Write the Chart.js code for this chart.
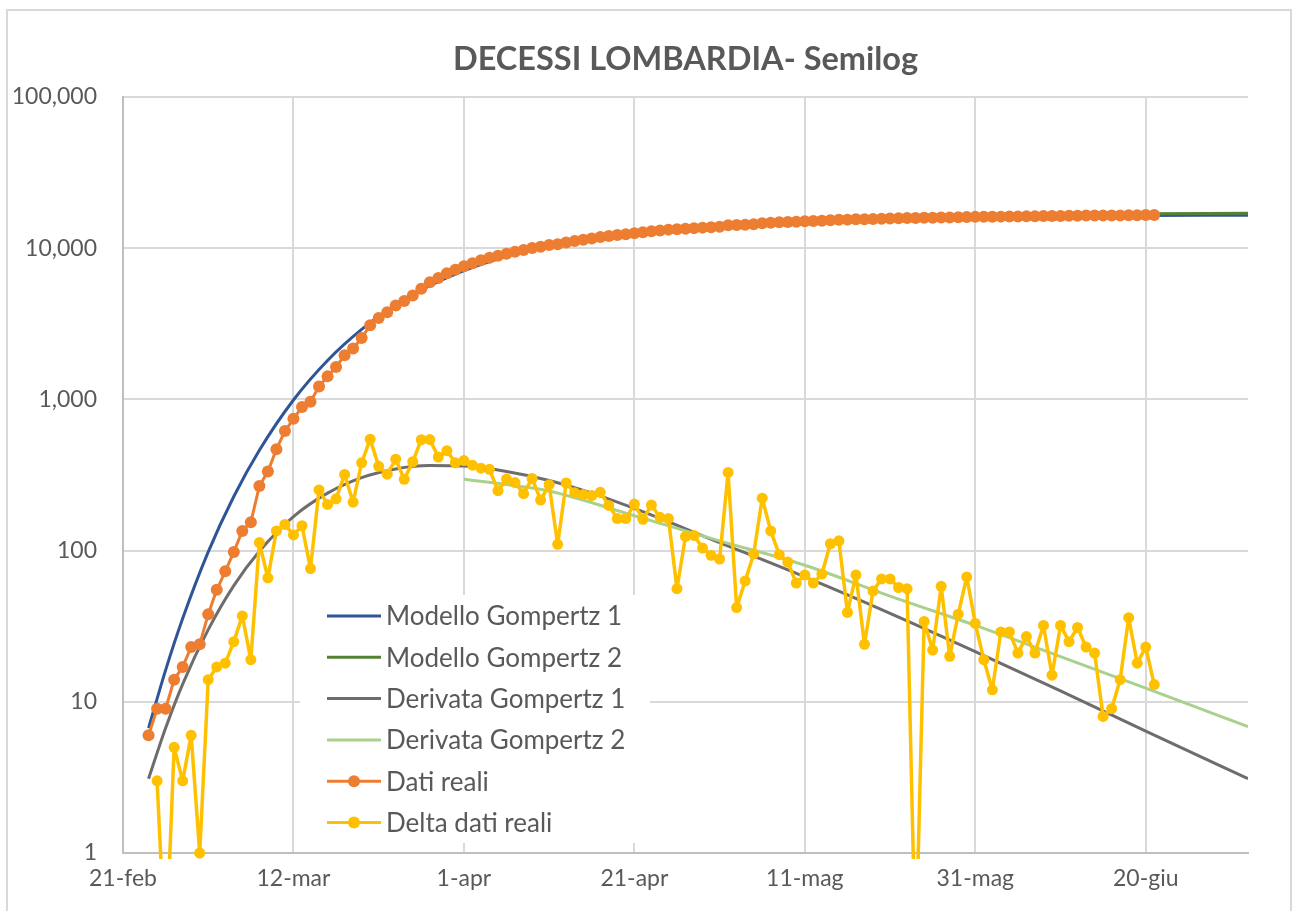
<!doctype html>
<html lang="it">
<head>
<meta charset="utf-8">
<title>DECESSI LOMBARDIA- Semilog</title>
<script src="https://cdn.jsdelivr.net/npm/chart.js@4.4.1/dist/chart.umd.min.js"></script>
<style>
  html, body { margin: 0; padding: 0; background: #fff; }
  #wrap { width: 1292px; height: 911px; }
</style>
</head>
<body>
<div id="wrap"><canvas id="chart" width="1292" height="911"></canvas></div>

<script>
    // x axis = days since 21-feb, one label every 20 days
    const tickLabels = ['21-feb', '12-mar', '1-apr', '21-apr', '11-mag', '31-mag', '20-giu'];
    const yTicks = [1, 10, 100, 1000, 10000, 100000];

    // Dati reali: cumulative deaths, from 24-feb (day 3)
    const realiStart = 3;
    const datiReali = [6, 9, 9, 14, 17, 23, 24, 38, 55, 73,
        98, 135, 154, 267, 333, 468, 617, 744, 890, 966,
        1218, 1420, 1640, 1959, 2168, 2549, 3095, 3456, 3776, 4178,
        4474, 4861, 5402, 5944, 6360, 6818, 7199, 7593, 7960, 8311,
        8656, 8905, 9202, 9484, 9722, 10022, 10238, 10511, 10621, 10901,
        11142, 11377, 11608, 11851, 12050, 12213, 12376, 12579, 12740, 12940,
        13106, 13269, 13325, 13449, 13575, 13679, 13772, 13860, 14189, 14231,
        14294, 14389, 14611, 14746, 14840, 14924, 14985, 15054, 15115, 15185,
        15296, 15412, 15451, 15520, 15544, 15598, 15663, 15728, 15785, 15841,
        15841, 15875, 15897, 15955, 15975, 16013, 16080, 16113, 16132, 16144,
        16173, 16202, 16223, 16250, 16271, 16303, 16318, 16350, 16375, 16406,
        16429, 16450, 16458, 16467, 16481, 16517, 16535, 16558, 16571];

    // Delta dati reali: daily deaths, from 25-feb (day 4)
    const deltaStart = 4;
    const deltaReali = [3, 0, 5, 3, 6, 1, 14, 17, 18, 25,
        37, 19, 113, 66, 135, 149, 127, 146, 76, 252,
        202, 220, 319, 209, 381, 546, 361, 320, 402, 296,
        387, 541, 542, 416, 458, 381, 394, 367, 351, 345,
        249, 297, 282, 238, 300, 216, 273, 110, 280, 241,
        235, 231, 243, 199, 163, 163, 203, 161, 200, 166,
        163, 56, 124, 126, 104, 93, 88, 329, 42, 63,
        95, 222, 135, 94, 84, 61, 69, 61, 70, 111,
        116, 39, 69, 24, 54, 65, 65, 57, 56, 0,
        34, 22, 58, 20, 38, 67, 33, 19, 12, 29,
        29, 21, 27, 21, 32, 15, 32, 25, 31, 23,
        21, 8, 9, 14, 36, 18, 23, 13];

    // model curves
    const modelDays1 = [3, 5, 7, 10, 13, 16, 20, 24, 28, 32, 36, 40, 45, 50, 55, 60, 70, 80, 90, 100, 110, 120, 132];
    const gompertz1 = [6.7, 16.2, 35.5, 98, 228, 461, 991, 1808, 2902, 4210, 5643, 7104, 8853, 10418, 11755, 12855, 14426, 15370, 15913, 16220, 16390, 16484, 16544];
    const derivata1 = [3.1, 6.7, 13.1, 30, 58.7, 99, 168, 240, 304, 347, 365, 362, 334, 291, 240, 190, 113, 67, 38.5, 21.5, 11.8, 6.4, 3.1];

    const modelDays2 = [40, 45, 50, 60, 70, 80, 90, 100, 110, 120, 132];
    const gompertz2 = [7600, 9000, 10500, 12600, 14200, 15300, 16000, 16450, 16750, 16900, 17050];
    const derivata2 = [296, 274, 248, 170, 116, 80, 50, 32, 19.9, 12.3, 6.85];

    const textColor = '#595959';
    const font = 'Lato';

    function pairs(days, vals) {
        return vals.map((v, i) => ({x: days[i], y: v}));
    }

    function daily(start, vals) {
        // Excel drops zero values below the log axis
        return vals.map((v, i) => ({x: start + i, y: v > 0 ? v : 0.2}));
    }

    const modelLine = {
        pointRadius: 0,
        borderWidth: 3,
        cubicInterpolationMode: 'monotone',
        fill: false
    };

    const data = {
        datasets: [
            Object.assign({
                label: 'Modello Gompertz 1',
                borderColor: '#2F5597',
                backgroundColor: '#2F5597',
                data: pairs(modelDays1, gompertz1),
                order: 6
            }, modelLine),
            Object.assign({
                label: 'Modello Gompertz 2',
                borderColor: '#548235',
                backgroundColor: '#548235',
                data: pairs(modelDays2, gompertz2),
                order: 5
            }, modelLine),
            Object.assign({
                label: 'Derivata Gompertz 1',
                borderColor: '#6F6C6C',
                backgroundColor: '#6F6C6C',
                data: pairs(modelDays1, derivata1),
                order: 4
            }, modelLine),
            Object.assign({
                label: 'Derivata Gompertz 2',
                borderColor: '#A9D18E',
                backgroundColor: '#A9D18E',
                data: pairs(modelDays2, derivata2),
                order: 3
            }, modelLine),
            {
                label: 'Dati reali',
                borderColor: '#ED7D31',
                backgroundColor: '#ED7D31',
                borderWidth: 3,
                borderJoinStyle: 'round',
                pointRadius: 6,
                pointBorderWidth: 0,
                data: daily(realiStart, datiReali),
                order: 2
            },
            {
                label: 'Delta dati reali',
                borderColor: '#FFC000',
                backgroundColor: '#FFC000',
                borderWidth: 3.5,
                borderJoinStyle: 'round',
                pointRadius: 5.5,
                pointBorderWidth: 0,
                data: daily(deltaStart, deltaReali),
                clip: 6,
                order: 1
            }
        ]
    };

    // outer frame of the chart object
    const frame = {
        id: 'frame',
        beforeDraw(chart) {
            const ctx = chart.ctx;
            ctx.save();
            ctx.fillStyle = '#fff';
            ctx.fillRect(0, 0, chart.width, chart.height);
            ctx.strokeStyle = '#d9d9d9';
            ctx.lineWidth = 2;
            ctx.strokeRect(7, 10, chart.width - 8, chart.height);
            ctx.restore();
        }
    };

    // legend sits inside the plot, lower left, on a white box
    const legendBox = {
        id: 'legendBox',
        afterDraw(chart) {
            const ctx = chart.ctx;
            const area = chart.chartArea;
            const x0 = area.left + 177;
            const y0 = area.top + 498;
            ctx.save();
            ctx.fillStyle = '#fff';
            ctx.fillRect(x0, y0, 350, 248);
            chart.data.datasets.forEach((ds, i) => {
                const y = y0 + 21 + i * 41.3;
                ctx.strokeStyle = ds.borderColor;
                ctx.lineWidth = 3;
                ctx.beginPath();
                ctx.moveTo(x0 + 27, y);
                ctx.lineTo(x0 + 81, y);
                ctx.stroke();
                if (ds.pointRadius > 0) {
                    ctx.fillStyle = ds.borderColor;
                    ctx.beginPath();
                    ctx.arc(x0 + 54, y, 6, 0, Math.PI * 2);
                    ctx.fill();
                }
                ctx.fillStyle = textColor;
                ctx.font = '26px ' + font;
                ctx.textBaseline = 'middle';
                ctx.textAlign = 'left';
                ctx.fillText(ds.label, x0 + 86, y + 1);
            });
            ctx.restore();
        }
    };

    const config = {
        type: 'line',
        data: data,
        options: {
            responsive: false,
            animation: false,
            events: [],
            layout: {
                padding: {top: 10, right: 44, left: 0, bottom: 0}
            },
            plugins: {
                legend: {display: false},
                tooltip: {enabled: false},
                title: {
                    display: true,
                    text: 'DECESSI LOMBARDIA- Semilog',
                    fullSize: false,
                    color: textColor,
                    font: {family: font, size: 32.5, weight: 'bold', lineHeight: 1.2},
                    padding: {top: 30, bottom: 18}
                }
            },
            scales: {
                x: {
                    type: 'linear',
                    min: 0,
                    max: 132,
                    afterBuildTicks: s => {
                        s.ticks = tickLabels.map((_, i) => ({value: i * 20}));
                    },
                    afterFit: s => {
                        s.height = 58;
                    },
                    ticks: {
                        autoSkip: false,
                        maxRotation: 0,
                        padding: 12,
                        color: textColor,
                        font: {family: font, size: 23},
                        callback: (v, i) => tickLabels[i]
                    },
                    grid: {color: '#d9d9d9', lineWidth: 2, drawTicks: false},
                    border: {color: '#bfbfbf', width: 2}
                },
                y: {
                    type: 'logarithmic',
                    min: 1,
                    max: 100000,
                    afterBuildTicks: s => {
                        s.ticks = yTicks.map(v => ({value: v}));
                    },
                    afterFit: s => {
                        s.width = 123;
                    },
                    ticks: {
                        padding: 26,
                        color: textColor,
                        font: {family: font, size: 23},
                        callback: v => Number(v).toLocaleString('en-US')
                    },
                    grid: {color: '#d9d9d9', lineWidth: 2, drawTicks: false},
                    border: {color: '#bfbfbf', width: 2}
                }
            }
        },
        plugins: [frame, legendBox]
    };

    const chart = new Chart(document.getElementById('chart'), config);
</script>
</body>
</html>
